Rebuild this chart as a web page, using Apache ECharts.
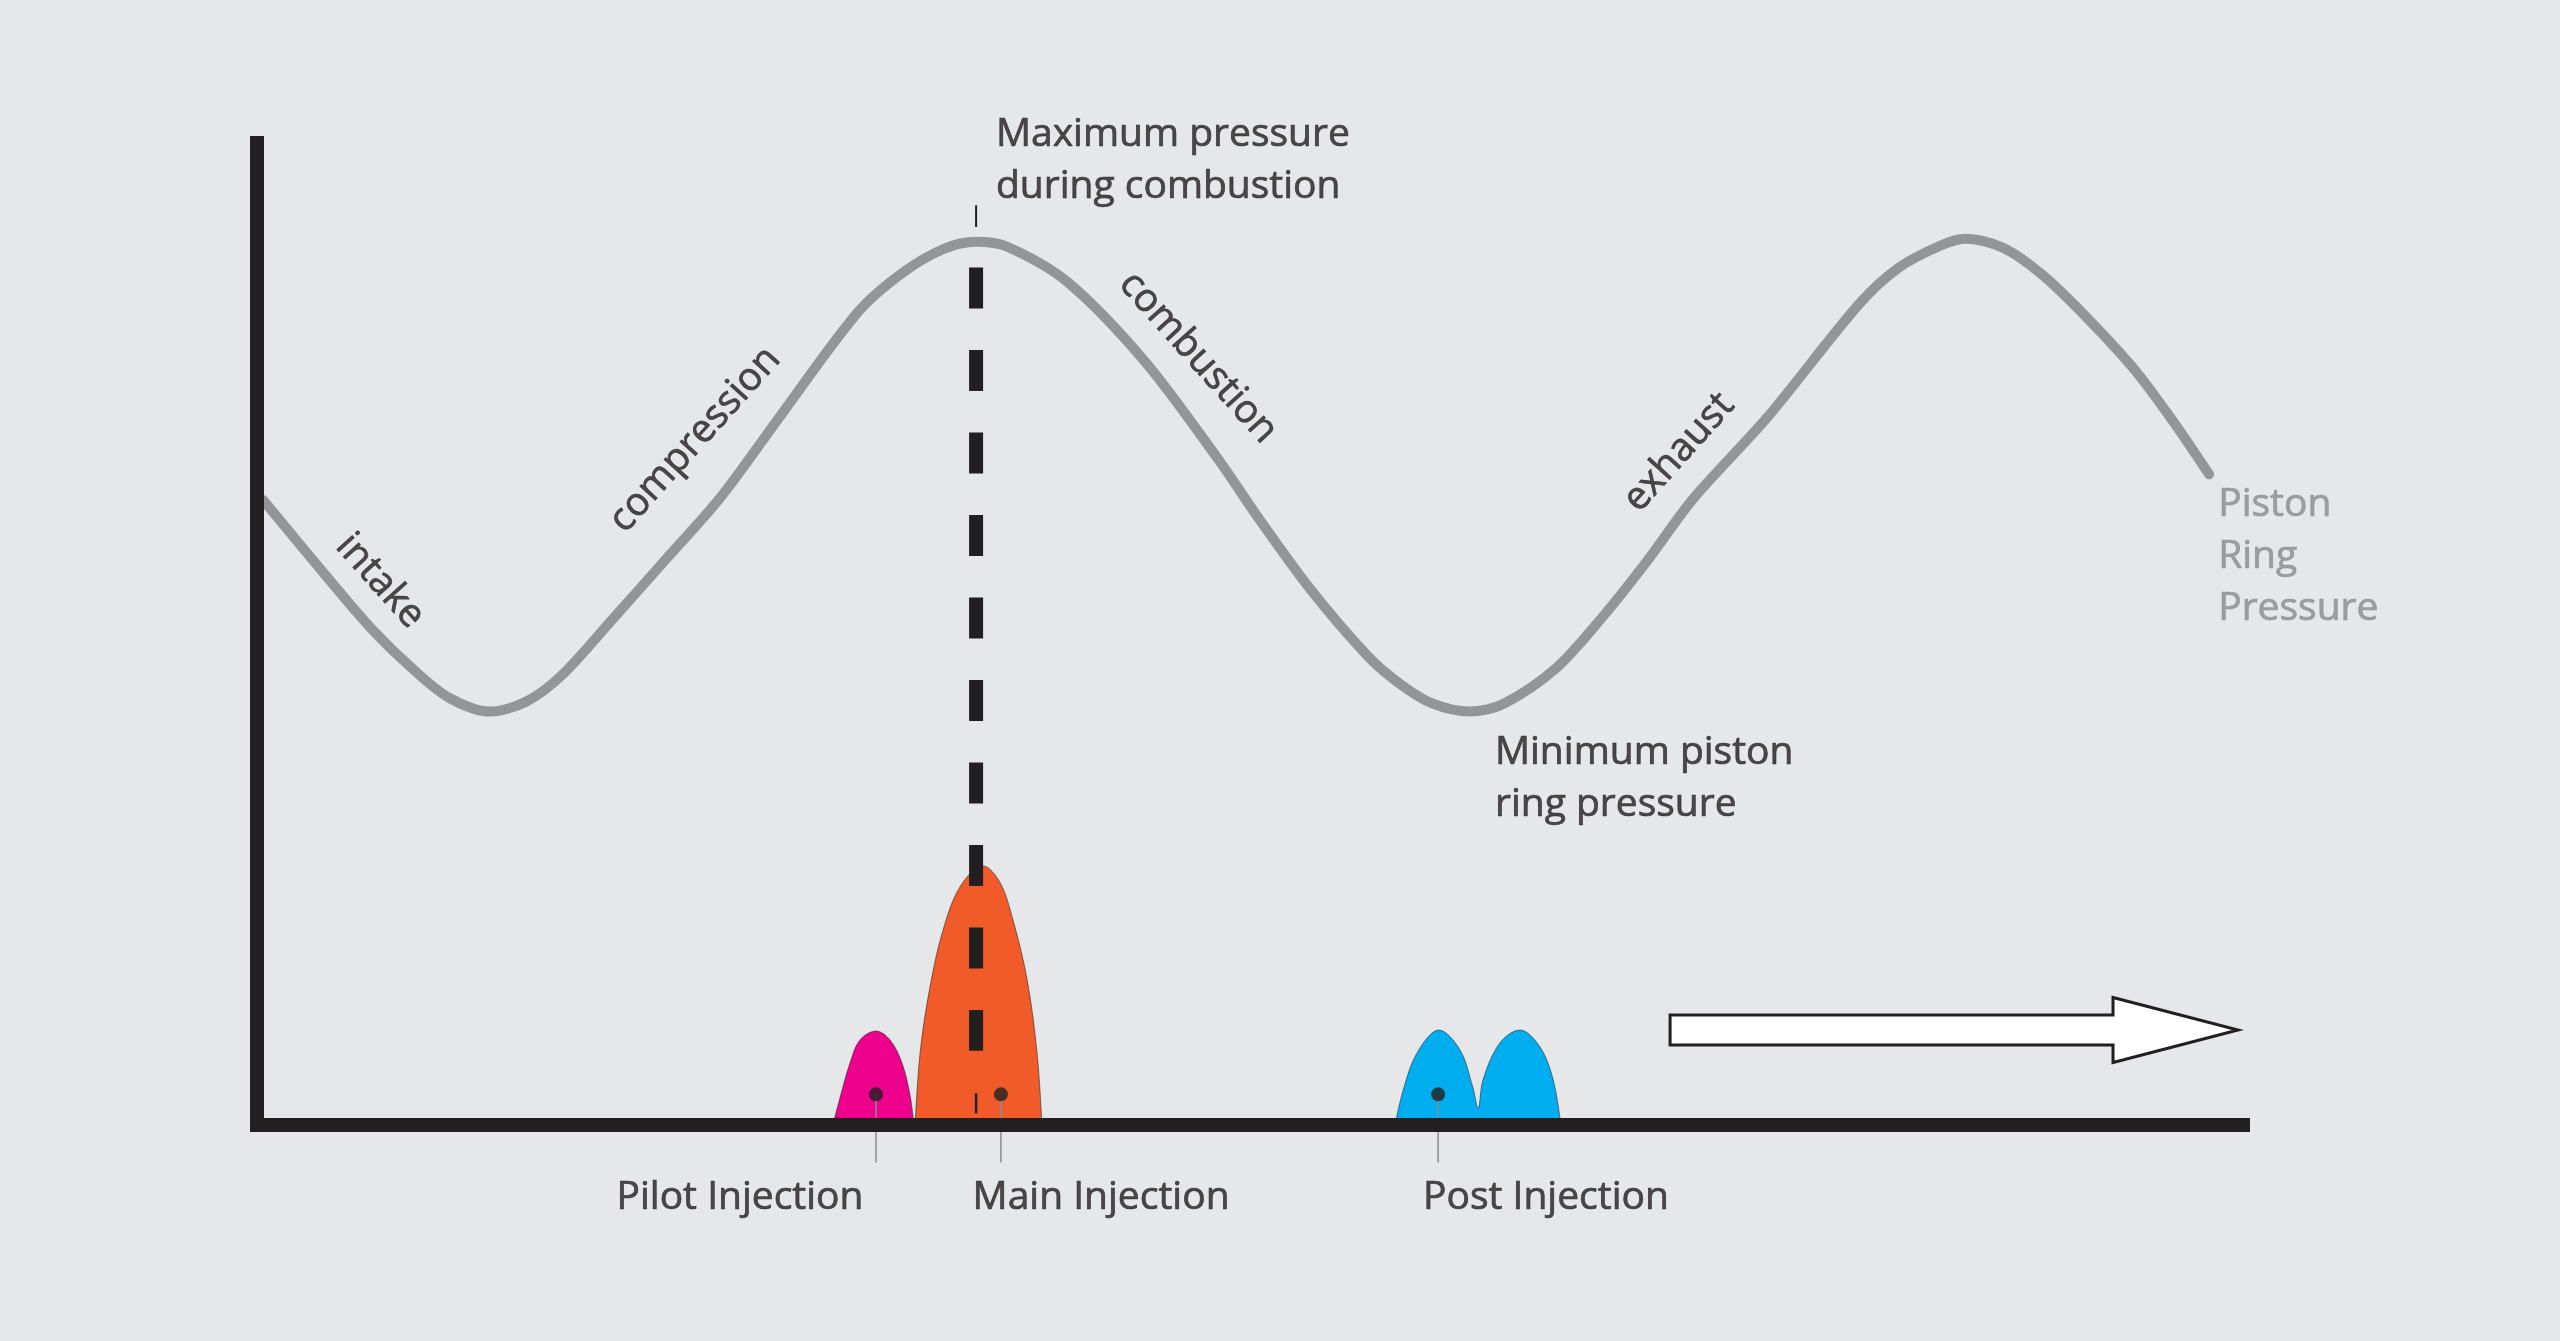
<!DOCTYPE html>
<html>
<head>
<meta charset="utf-8">
<title>Piston ring pressure and injection timing</title>
<script src="https://cdn.jsdelivr.net/npm/echarts@6.0.0/dist/echarts.min.js"></script>
<style>
  html, body { margin: 0; padding: 0; background: #e6e7e8; }
  #chart { width: 2560px; height: 1341px; }
</style>
</head>
<body>
<div id="chart"></div>
<script>
// x: crank angle (deg, 0-720), y: relative pressure (0-100)
const ringPressure = [
  [2.2, 63.2], [27.2, 54.8], [42.1, 50.0], [56.9, 46.0], [69.6, 43.2], [84.5, 41.8],
  [97.5, 42.8], [110.6, 45.5], [129.1, 51.2], [147.6, 57.0], [167.9, 63.4], [190.0, 71.8],
  [217.9, 82.2], [234.2, 86.2], [249.1, 88.6], [260.7, 89.3], [272.0, 88.8], [294.0, 85.2],
  [321.9, 77.2], [348.0, 67.5], [364.0, 61.0], [381.8, 54.2], [402.4, 47.5], [414.4, 44.6],
  [426.3, 42.6], [439.8, 41.8], [452.0, 42.6], [470.6, 46.1], [487.3, 51.2], [503.9, 57.0],
  [520.6, 63.3], [547.4, 71.5], [580.8, 83.0], [595.3, 86.7], [610.2, 88.9], [619.2, 89.6],
  [633.0, 88.7], [647.5, 85.9], [664.2, 81.4], [680.9, 76.3], [695.3, 70.9], [707.7, 65.8]
];

// injection rate humps
const pilotInjection = [
  [208.8, 0], [211.4, 2.8], [215.0, 6.3], [218.6, 8.6], [224.4, 9.5],
  [229.5, 8.6], [233.8, 6.3], [236.7, 3.1], [238.2, 0]
];
const mainInjection = [
  [238.6, 0], [240.4, 7.3], [244.0, 14.0], [248.7, 19.7], [254.9, 24.1], [263.2, 26.2],
  [269.4, 24.5], [274.1, 20.7], [279.2, 14.7], [282.8, 7.3], [284.6, 0]
];
const postInjection = [
  [412.6, 0], [415.5, 3.5], [420.6, 7.3], [428.5, 9.6], [436.1, 7.6], [440.8, 3.8],
  [442.7, 1.7], [444.5, 4.6], [450.6, 8.3], [457.9, 9.6], [465.1, 7.9], [469.9, 4.6], [472.7, 0]
];

// maximum pressure marker (TDC)
const tdcAngle = 260.7;
const tdcDash = [86.7, 7.5];
const tdcTickTop = [93.0, 90.8];
const tdcTickBottom = [3.2, 1.2];

// injection markers: name, dot angle, label centre angle
const injectionNames = ['Pilot Injection', 'Main Injection', 'Post Injection'];
const injectionDots = [224.4, 269.7, 428.2];
const injectionLabelX = [175.1, 306.0, 467.3];
const dotLevel = 3.1;
const leaderBottom = -3.8;
const labelLevel = -7.4;

// direction arrow: start angle, end angle, level
const arrowFrom = 512.3;
const arrowTo = 718.2;
const arrowLevel = 9.6;

// text annotations: text, x, y, rotate
const phaseLabels = [
  ['intake', 44.6, 55.0, -48],
  ['compression', 158.8, 69.3, 48],
  ['combustion', 341.2, 77.6, -48],
  ['exhaust', 515.5, 68.0, 48]
];
const noteLabels = [
  ['Maximum pressure\nduring combustion', 267.9, 97.5],
  ['Minimum piston\nring pressure', 448.8, 35.0]
];
const curveName = ['Piston\nRing\nPressure', 711.0, 57.4];

const ink = '#231f20';
const curveGray = '#939598';
const fontFamily = '"Open Sans", "Noto Sans", sans-serif';
const fontSize = 39;

const chart = echarts.init(document.getElementById('chart'));

function hump(data, color) {
  return {
    type: 'line',
    data: data,
    smooth: 0.35,
    showSymbol: false,
    silent: true,
    z: 2,
    lineStyle: { color: 'rgba(35,31,32,0.55)', width: 1 },
    areaStyle: { color: color, opacity: 1 }
  };
}

function textSeries(items, color, align, withRotate) {
  return {
    type: 'scatter',
    symbolSize: 0,
    silent: true,
    clip: false,
    z: 5,
    data: items.map(function (t) {
      return {
        value: [t[1], t[2]],
        label: {
          show: true,
          position: [0, 0],
          formatter: t[0],
          rotate: withRotate ? t[3] : 0,
          align: align,
          verticalAlign: 'middle',
          color: color,
          textBorderColor: color,
          textBorderWidth: 0.7,
          fontFamily: fontFamily,
          fontSize: fontSize,
          lineHeight: 52
        }
      };
    })
  };
}

const series = [
  {
    type: 'line',
    data: ringPressure,
    smooth: 0.3,
    showSymbol: false,
    silent: true,
    z: 2,
    lineStyle: { color: curveGray, width: 10, cap: 'round', join: 'round' }
  },
  hump(pilotInjection, '#ec008c'),
  hump(mainInjection, '#f15a29'),
  hump(postInjection, '#00aeef'),
  {
    type: 'line',
    data: [[tdcAngle, tdcDash[0]], [tdcAngle, tdcDash[1]]],
    showSymbol: false,
    silent: true,
    z: 3,
    lineStyle: { color: ink, width: 14, type: [41, 41.5], cap: 'butt' }
  },
  {
    type: 'line',
    data: [[tdcAngle, tdcTickTop[0]], [tdcAngle, tdcTickTop[1]]],
    showSymbol: false,
    silent: true,
    z: 3,
    lineStyle: { color: ink, width: 2 }
  },
  {
    type: 'line',
    data: [[tdcAngle, tdcTickBottom[0]], [tdcAngle, tdcTickBottom[1]]],
    showSymbol: false,
    silent: true,
    z: 3,
    lineStyle: { color: ink, width: 2.5 }
  }
];

// leader lines from dots to labels
injectionDots.forEach(function (x) {
  series.push({
    type: 'line',
    data: [[x, dotLevel], [x, leaderBottom]],
    showSymbol: false,
    silent: true,
    clip: false,
    z: 3,
    lineStyle: { color: '#8a8c8f', width: 1.5 }
  });
});

series.push({
  type: 'scatter',
  data: injectionDots.map(function (x) { return [x, dotLevel]; }),
  symbol: 'circle',
  symbolSize: 14,
  silent: true,
  z: 4,
  itemStyle: { color: ink }
});

series.push(textSeries(
  injectionNames.map(function (n, i) { return [n, injectionLabelX[i], labelLevel]; }),
  ink, 'center', false
));
series.push(textSeries(phaseLabels, ink, 'center', true));
series.push(textSeries(noteLabels, ink, 'left', false));
series.push(textSeries([curveName], '#8a8c8f', 'left', false));

series.push({
  type: 'custom',
  silent: true,
  z: 3,
  data: [[arrowFrom, arrowLevel, arrowTo]],
  renderItem: function (params, api) {
    const a = api.coord([api.value(0), api.value(1)]);
    const b = api.coord([api.value(2), api.value(1)]);
    const shaft = 15, head = 32.5, headLen = 125;
    const hx = b[0] - headLen;
    return {
      type: 'polygon',
      shape: {
        points: [
          [a[0], a[1] - shaft], [hx, a[1] - shaft], [hx, a[1] - head], [b[0], a[1]],
          [hx, a[1] + head], [hx, a[1] + shaft], [a[0], a[1] + shaft]
        ]
      },
      style: { fill: '#ffffff', stroke: ink, lineWidth: 3, lineJoin: 'miter' }
    };
  }
});

const option = {
  backgroundColor: '#e6e7e8',
  animation: false,
  grid: { left: 257, right: 317, top: 136, bottom: 216, containLabel: false },
  xAxis: {
    type: 'value',
    min: 0,
    max: 720,
    z: 10,
    axisLine: { show: true, onZero: false, lineStyle: { color: ink, width: 14, cap: 'square' } },
    axisTick: { show: false },
    axisLabel: { show: false },
    splitLine: { show: false }
  },
  yAxis: {
    type: 'value',
    min: 0,
    max: 100,
    z: 10,
    axisLine: { show: true, onZero: false, lineStyle: { color: ink, width: 14, cap: 'butt' } },
    axisTick: { show: false },
    axisLabel: { show: false },
    splitLine: { show: false }
  },
  series: series
};

chart.setOption(option);
</script>
</body>
</html>
